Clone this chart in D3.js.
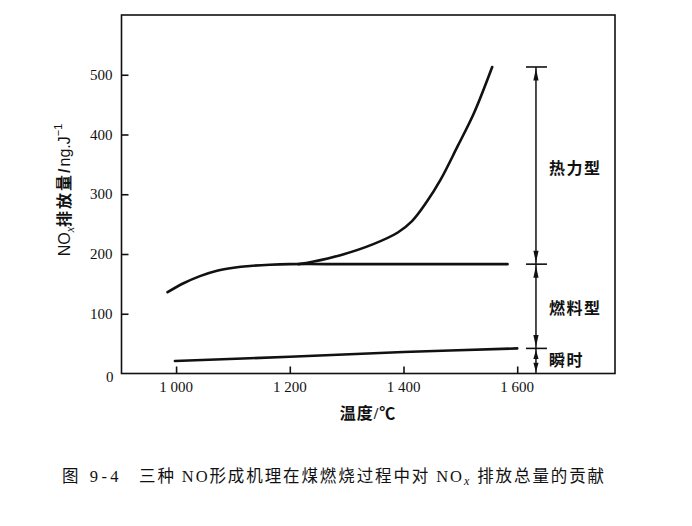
<!DOCTYPE html>
<html><head><meta charset="utf-8">
<script src="https://cdn.jsdelivr.net/npm/d3@7"></script>
<style>body{margin:0;background:#fff}svg{display:block}</style>
</head><body>
<svg id="c" width="692" height="526"></svg>
<script>
// Data
const fuelT  = [985, 1013, 1042, 1072, 1101, 1130, 1165, 1200, 1300, 1400, 1500, 1583];
const fuelNO = [136, 151, 163, 172, 177, 180, 182, 183, 183, 183, 183, 183];
const thermalT  = [1215, 1240, 1289, 1348, 1390, 1415, 1440, 1465, 1495, 1524, 1556];
const thermalNO = [183, 187, 198, 217, 236, 255, 286, 324, 380, 436, 513];
const promptT  = [998, 1200, 1400, 1600];
const promptNO = [21, 28, 36, 42];
const xTicks = [1000, 1200, 1400, 1600];
const xTickLabels = ["1 000", "1 200", "1 400", "1 600"];
const yTicks = [0, 100, 200, 300, 400, 500];
const bracketT = 1633;
const bracketLevels = [513, 183, 42, 0];
const bracketLabels = ["热力型", "燃料型", "瞬时"];
const bracketLabelNO = [344, 110, 23];

const svg = d3.select("#c");
const FONT = "'Liberation Serif','Noto Sans CJK SC',serif";
const SANS = "'Liberation Sans','Noto Sans CJK SC',sans-serif";
const x = d3.scaleLinear().domain([904, 1772]).range([121.5, 615]);
const y = d3.scaleLinear().domain([0, 600]).range([373.5, 15]);

// frame
svg.append("rect").attr("x", x.range()[0]).attr("y", y(600))
  .attr("width", x.range()[1]-x.range()[0]).attr("height", y(0)-y(600))
  .attr("fill","none").attr("stroke","#111").attr("stroke-width",1.6);

// axes (inward ticks)
const gx = svg.append("g").attr("transform",`translate(0,${y(0)})`)
  .call(d3.axisTop(x).tickValues(xTicks).tickSize(7).tickFormat(""));
gx.select(".domain").remove();
gx.selectAll("line").attr("stroke","#111").attr("stroke-width",1.6);
svg.append("g").selectAll("text").data(xTicks).join("text")
  .attr("x", d=>x(d)).attr("y", y(0)+18).attr("text-anchor","middle")
  .attr("font-family",FONT).attr("font-size",15).attr("fill","#111")
  .text((d,i)=>xTickLabels[i]);

const gy = svg.append("g").attr("transform",`translate(${x.range()[0]},0)`)
  .call(d3.axisRight(y).tickValues(yTicks.filter(d=>d>0)).tickSize(7).tickFormat(""));
gy.select(".domain").remove();
gy.selectAll("line").attr("stroke","#111").attr("stroke-width",1.6);
svg.append("g").selectAll("text").data(yTicks).join("text")
  .attr("x", d=> d===0 ? x.range()[0]-8 : x.range()[0]-9)
  .attr("y", d=>y(d)+ (d===0?8:5)).attr("text-anchor","end")
  .attr("font-family",FONT).attr("font-size",15).attr("fill","#111")
  .text(d=>d);

// curves
const line = d3.line().x(d=>x(d[0])).y(d=>y(d[1])).curve(d3.curveCatmullRom.alpha(0.5));
function draw(ts, vs){
  svg.append("path").datum(ts.map((t,i)=>[t,vs[i]])).attr("d",line)
    .attr("fill","none").attr("stroke","#111").attr("stroke-width",2.6)
    .attr("stroke-linecap","round");
}
draw(fuelT, fuelNO);
draw(thermalT, thermalNO);
draw(promptT, promptNO);

// bracket annotation
const bx = x(bracketT);
svg.append("line").attr("x1",bx).attr("x2",bx).attr("y1",y(bracketLevels[0])).attr("y2",y(0))
  .attr("stroke","#111").attr("stroke-width",1.5);
bracketLevels.slice(0,3).forEach(v=>{
  svg.append("line").attr("x1",bx-10).attr("x2",bx+11).attr("y1",y(v)).attr("y2",y(v))
    .attr("stroke","#111").attr("stroke-width",1.6);
});
function head(yTip, dir, len){ // dir -1 = up, +1 = down
  const yb = yTip - dir*len;
  svg.append("path").attr("d",`M${bx},${yTip} L${bx-2.6},${yb} L${bx+2.6},${yb} Z`).attr("fill","#111");
}
for(let i=0;i<3;i++){
  const top = y(bracketLevels[i])+1.5, bot = y(bracketLevels[i+1])-1.5;
  const len = Math.min(12, (bot-top)/2.4);
  head(top, -1, len);
  head(bot, 1, len);
}
svg.append("g").selectAll("text").data(bracketLabels).join("text")
  .attr("x", bx+13).attr("y",(d,i)=>y(bracketLabelNO[i])+6)
  .attr("font-family",FONT).attr("font-size",16).attr("font-weight","bold")
  .attr("letter-spacing",1.5).attr("fill","#111")
  .text(d=>d);

// axis titles
const yl = svg.append("text").attr("transform","translate(70,190) rotate(-90)")
  .attr("text-anchor","middle").attr("font-family",SANS).attr("font-size",16).attr("fill","#111");
yl.append("tspan").text("NO");
yl.append("tspan").attr("font-family",FONT).attr("font-style","italic").attr("font-size",12).attr("dy",4).text("x");
yl.append("tspan").attr("dy",-4).attr("font-weight","bold").attr("letter-spacing",2).text("排放量/");
yl.append("tspan").text("ng.J");
yl.append("tspan").attr("font-size",11).attr("dy",-8).text("−1");

svg.append("text").attr("x",368).attr("y",419).attr("text-anchor","middle")
  .attr("font-family",FONT).attr("font-size",16).attr("font-weight","bold")
  .attr("letter-spacing",1).attr("fill","#111")
  .text("温度/℃");

// caption
svg.append("text").attr("x",62).attr("y",482)
  .attr("font-family",FONT).attr("font-size",16.5).attr("letter-spacing",3.5).attr("fill","#111")
  .text("图 9-4");
const cap = svg.append("text").attr("x",139).attr("y",482)
  .attr("font-family",FONT).attr("font-size",16.5).attr("letter-spacing",1.9).attr("fill","#111");
cap.append("tspan").text("三种 NO形成机理在煤燃烧过程中对 NO");
cap.append("tspan").attr("font-style","italic").attr("font-size",12).attr("dy",3).text("x");
cap.append("tspan").attr("dy",-3).text(" 排放总量的贡献");
</script>
</body></html>
